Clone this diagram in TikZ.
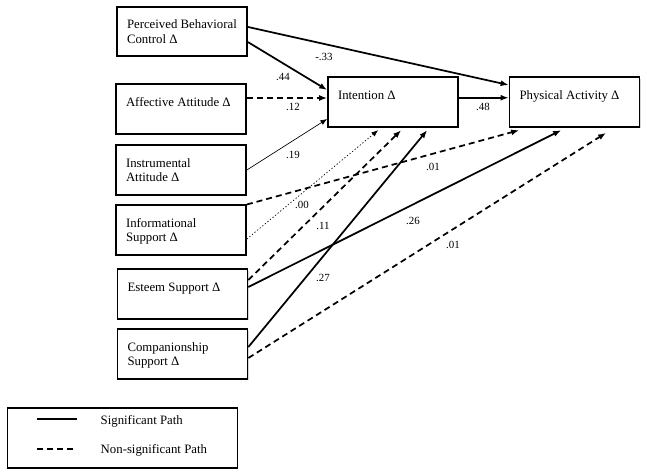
\documentclass[tikz,border=0pt]{standalone}
\usepackage{fontspec}
\setmainfont{Liberation Serif}
\usetikzlibrary{arrows.meta,shadows}
\newcommand{\boxtext}[1]{\parbox[c][37pt][t]{97.5pt}{\raggedright\leftskip=7.5pt\vspace*{8.6pt}\strut #1}}
\begin{document}
\begin{tikzpicture}[x=0.75pt, y=-0.75pt,
    every node/.style={font=\fontsize{9.6}{11}\selectfont},
    var/.style={draw, line width=1.3pt, fill=white, minimum width=97.5pt, minimum height=37pt, inner sep=0pt, drop shadow={shadow xshift=1pt, shadow yshift=-1pt, opacity=.3}},
    val/.style={font=\fontsize{8.2}{10}\selectfont, inner sep=1pt},
    sig/.style={line width=1.3pt, -{Latex[length=6pt,width=4.5pt]}},
    nsig/.style={sig, dash pattern=on 4.5pt off 3pt},
    weak/.style={line width=.5pt, -{Latex[length=5pt,width=4pt]}},
    faint/.style={weak, dash pattern=on 1pt off 1.5pt}]
          \useasboundingbox (0,0) rectangle (647,474);
          \node [var] (pbc) at (182,31.5) {\boxtext{Perceived Behavioral\\Control Δ}};
          \node [var] (aff) at (181,109) {\boxtext{Affective Attitude Δ}};
          \node [var] (ins) at (181,170) {\boxtext{Instrumental\\Attitude Δ}};
          \node [var] (inf) at (181,230) {\boxtext{Informational\\Support Δ}};
          \node [var] (est) at (182.5,294) {\boxtext{Esteem Support Δ}};
          \node [var] (com) at (182.5,354) {\boxtext{Companionship\\Support Δ}};
          \node [var] (int) at (393,102) {\boxtext{Intention Δ}};
          \node [var] (pa) at (574.5,102) {\boxtext{Physical Activity Δ}};
          \draw [sig] ([yshift=-7.9pt]pbc.east) -- ([yshift=9pt]int.west);
          \draw [sig] ([yshift=3.4pt]pbc.east) -- ([yshift=12.75pt]pa.west);
          \draw [nsig] ([yshift=3pt]int.west -| aff.east) -- ([yshift=3pt]int.west);
          \draw [weak] (ins.east) -- ([yshift=-12.75pt]int.west);
          \draw [sig] ([yshift=3.2pt]int.east) -- ([yshift=3.2pt]int.east -| pa.west);
          \draw [nsig] (inf.north east) -- ([xshift=7.9pt,yshift=-2pt]pa.south west);
          \draw [faint] ([yshift=-6.75pt]inf.east) -- ([xshift=38.25pt,yshift=-2pt]int.south west);
          \draw [nsig] ([yshift=10.5pt]est.east) -- ([xshift=55.5pt,yshift=-2pt]int.south west);
          \draw [sig] ([yshift=5.25pt]est.east) -- ([xshift=39.4pt,yshift=-2pt]pa.south west);
          \draw [sig] ([yshift=5.25pt]com.east) -- ([xshift=75pt,yshift=-2pt]int.south west);
          \draw [nsig] ([yshift=-3pt]com.east) -- ([xshift=73.1pt,yshift=-4pt]pa.south west);
          % path weights
          \node [val] (w44) at (283,77) {.44};
          \node [val] (w33) at (324,57) {-.33};
          \node [val] (w12) at (293,107) {.12};
          \node [val] (w19) at (293,155) {.19};
          \node [val] (w48) at (483,107) {.48};
          \node [val] (w01a) at (433,167) {.01};
          \node [val] (w00) at (302,205) {.00};
          \node [val] (w11) at (323,226) {.11};
          \node [val] (w26) at (413,221) {.26};
          \node [val] (w27) at (323,278) {.27};
          \node [val] (w01b) at (453,245) {.01};
          % legend
          \node [draw, line width=.8pt, minimum width=173pt, minimum height=45pt] (key) at (122.5,438) {};
          \coordinate (s1) at (37,419);
          \coordinate (s2) at (77,419);
          \coordinate (n1) at (37,449);
          \coordinate (n2) at (77,449);
          \draw [line width=1.3pt] (s1) -- (s2);
          \draw [line width=1.3pt, dash pattern=on 4.5pt off 3pt] (n1) -- (n2);
          \node [anchor=base west] (sigtxt) at (96,425) {Significant Path};
          \node [anchor=base west] (nsigtxt) at (96,453) {Non-significant Path};
        \end{tikzpicture}
\end{document}
